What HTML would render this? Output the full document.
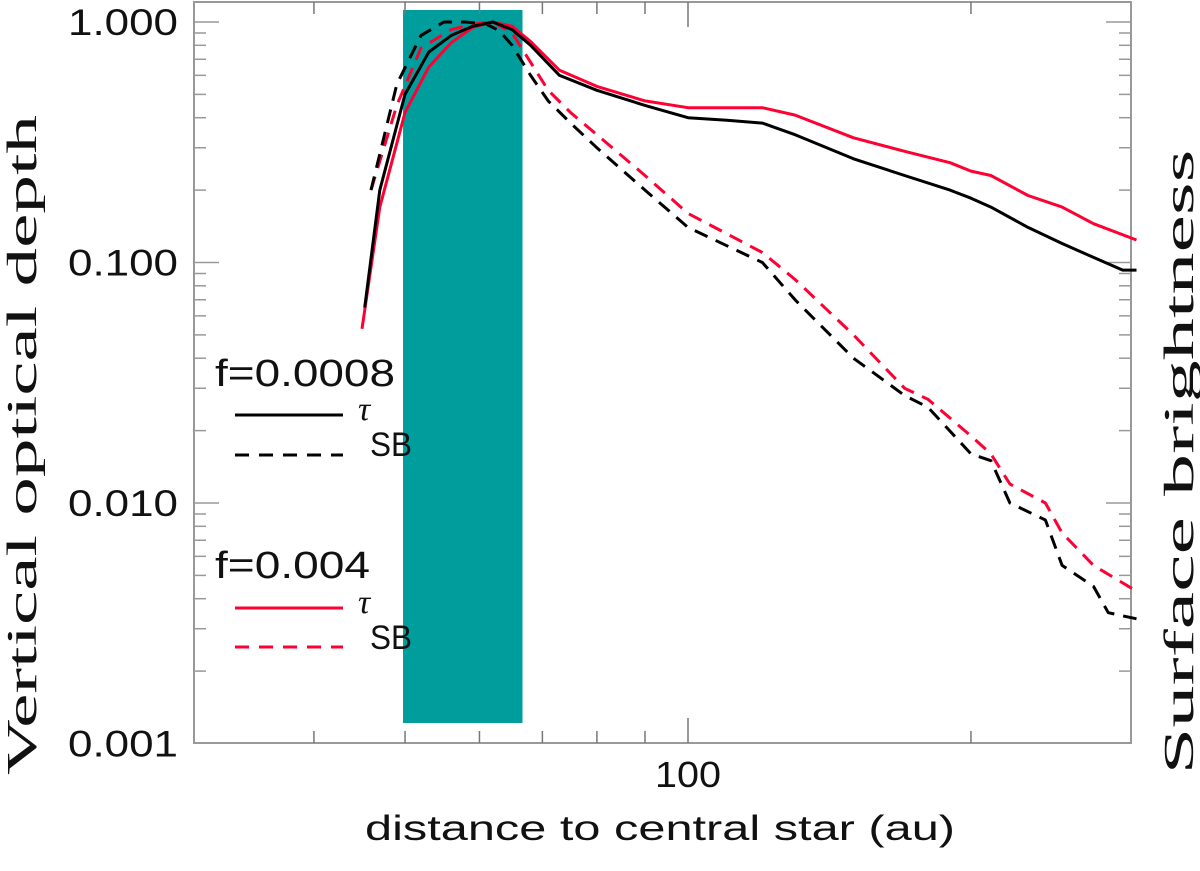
<!DOCTYPE html>
<html><head><meta charset="utf-8"><style>
body{margin:0;background:#fff;}
svg text{font-family:"Liberation Sans",sans-serif;fill:#111;}
svg text.serif{font-family:"Liberation Serif",serif;}
</style></head><body>
<svg id="chart" width="1200" height="866" viewBox="0 0 1200 866">
<g id="bg"></g>
<g id="axes"></g>
<g id="series"></g>
<g id="legend">
  <text x="215" y="386" font-size="38" textLength="180" lengthAdjust="spacingAndGlyphs">f=0.0008</text>
  <line x1="235" y1="415" x2="343" y2="415" stroke="#000" stroke-width="3"/>
  <text class="serif" x="358" y="420" font-size="34" font-style="italic">τ</text>
  <line x1="235" y1="455" x2="343" y2="455" stroke="#000" stroke-width="3" stroke-dasharray="14,10"/>
  <text x="370" y="456" font-size="34" textLength="42" lengthAdjust="spacingAndGlyphs">SB</text>
  <text x="215" y="578" font-size="38" textLength="155" lengthAdjust="spacingAndGlyphs">f=0.004</text>
  <line x1="235" y1="608" x2="343" y2="608" stroke="#ff0033" stroke-width="3"/>
  <text class="serif" x="358" y="613" font-size="34" font-style="italic">τ</text>
  <line x1="235" y1="647" x2="343" y2="647" stroke="#ff0033" stroke-width="3" stroke-dasharray="14,10"/>
  <text x="370" y="649" font-size="34" textLength="42" lengthAdjust="spacingAndGlyphs">SB</text>
</g>
<text x="660" y="840" font-size="35" text-anchor="middle" textLength="590" lengthAdjust="spacingAndGlyphs">distance to central star (au)</text>
<text class="serif" transform="translate(36,445) rotate(-90)" font-size="42" text-anchor="middle" textLength="660" lengthAdjust="spacingAndGlyphs">Vertical optical depth</text>
<text class="serif" transform="translate(1193,462) rotate(-90)" font-size="42" text-anchor="middle" textLength="625" lengthAdjust="spacingAndGlyphs">Surface brightness</text>
</svg>
<script>
const blackTauX=[45.3,47,50,53,56,59,62,65,68,73,80,90,100,110,120,130,150,170,190,200,210,230,250,270,290,300];
const blackTauY=[0.065,0.2,0.5,0.75,0.88,0.96,1.0,0.93,0.8,0.6,0.52,0.45,0.40,0.39,0.38,0.34,0.27,0.23,0.2,0.185,0.17,0.14,0.12,0.105,0.093,0.093];
const redTauX=[45,47,50,53,56,59,62,65,68,73,80,90,100,110,120,130,150,170,190,200,210,230,250,270,300];
const redTauY=[0.053,0.17,0.42,0.65,0.82,0.95,1.0,0.96,0.83,0.63,0.54,0.47,0.44,0.44,0.44,0.41,0.33,0.29,0.26,0.24,0.23,0.19,0.17,0.145,0.124];
const blackSbX=[46,49,52,55,58,61,63,65,68,71,75,80,90,100,120,130,150,170,180,200,210,220,240,250,270,280,300];
const blackSbY=[0.2,0.55,0.88,1.0,1.0,0.98,0.92,0.8,0.6,0.47,0.38,0.3,0.2,0.14,0.1,0.07,0.04,0.028,0.025,0.016,0.015,0.01,0.0085,0.0055,0.0045,0.0035,0.0033];
const redSbX=[46,49,52,56,59,62,65,68,71,75,80,90,100,120,130,150,170,180,200,210,220,240,250,270,300];
const redSbY=[0.2,0.45,0.78,0.93,0.98,1.0,0.9,0.68,0.52,0.42,0.34,0.23,0.16,0.11,0.085,0.05,0.03,0.027,0.019,0.016,0.012,0.01,0.0075,0.0055,0.0043];
const yTickVals=[1,0.1,0.01,0.001];
const yTickLabels=["1.000","0.100","0.010","0.001"];
const xTickVals=[100];
const xTickLabels=["100"];
const bandRange=[50,67];

const NS="http://www.w3.org/2000/svg";
const L=194,R=1131,T=2,B=743;
function xs(v){return 688+940*Math.log10(v/100);}
function ys(v){return 22-240.5*Math.log10(v);}
function mk(tag,attrs,parent){const e=document.createElementNS(NS,tag);for(const k in attrs)e.setAttribute(k,attrs[k]);parent.appendChild(e);return e;}
const bg=document.getElementById('bg'),ax=document.getElementById('axes'),se=document.getElementById('series');

const band=mk('rect',{x:xs(bandRange[0])-2,y:10,width:xs(bandRange[1])-xs(bandRange[0]),height:713,fill:'#009d9d'},bg);



const box=mk('rect',{x:L,y:T,width:R-L,height:B-T,fill:'none',stroke:'#999',"stroke-width":2},ax);



for(let d=40;d<=300;d+=(d<100?10:100)){
  const x=xs(d);if(x>R-2)continue;const major=(d===100);const len=major?25:12;
  mk('line',{x1:x,y1:B,x2:x,y2:B-len,stroke:'#777','stroke-width':1.5},ax);
  mk('line',{x1:x,y1:T,x2:x,y2:T+len,stroke:'#777','stroke-width':1.5},ax);
}
xTickVals.forEach((v,i)=>{
  const t=mk('text',{x:xs(v),y:787,'font-size':36,'text-anchor':'middle',textLength:66,lengthAdjust:'spacingAndGlyphs'},ax);t.textContent=xTickLabels[i];
  
  
});
for(let e=-3;e<=0;e++){for(let m=1;m<=9;m++){
  const v=m*Math.pow(10,e);const y=ys(v);if(y<T||y>B)continue;const len=m===1?25:12;
  mk('line',{x1:L,y1:y,x2:L+len,y2:y,stroke:'#999','stroke-width':1.5},ax);
  mk('line',{x1:R,y1:y,x2:R-len,y2:y,stroke:'#999','stroke-width':1.5},ax);
}}
yTickVals.forEach((v,i)=>{
  const t=mk('text',{x:68,y:ys(v)+13,'font-size':37,textLength:110,lengthAdjust:'spacingAndGlyphs'},ax);t.textContent=yTickLabels[i];
  
  
});

function line(xa,ya,color,dash,name){
  const d=xa.map((x,i)=>(i?'L':'M')+xs(x).toFixed(1)+','+ys(ya[i]).toFixed(1)).join(' ');
  const p=mk('path',{d:d,fill:'none',stroke:color,'stroke-width':3,'stroke-dasharray':dash||'none','stroke-linejoin':'round'},se);
  
  
}
line(redSbX,redSbY,'#ff0033','14,9','series-red-sb');
line(blackSbX,blackSbY,'#000','14,9','series-black-sb');
line(redTauX,redTauY,'#ff0033',null,'series-red-tau');
line(blackTauX,blackTauY,'#000',null,'series-black-tau');
</script>
</body></html>
